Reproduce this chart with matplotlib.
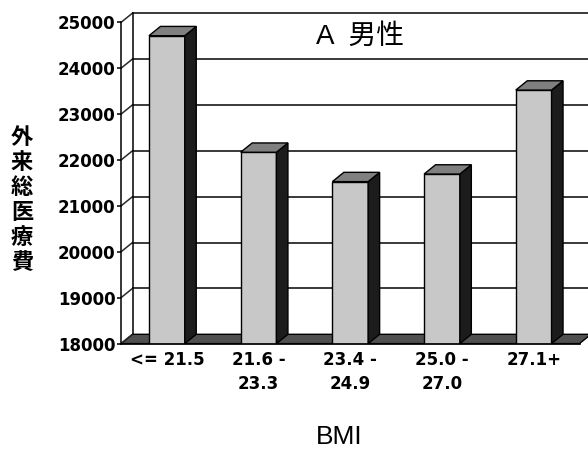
import matplotlib
matplotlib.use("Agg")
import matplotlib.pyplot as plt
from matplotlib.patches import Polygon
import numpy as np

# ---- data ----
categories = ["<= 21.5", "21.6 -\n23.3", "23.4 -\n24.9", "25.0 -\n27.0", "27.1+"]
values = [24710, 22170, 21530, 21695, 23525]
yticks = [18000, 19000, 20000, 21000, 22000, 23000, 24000, 25000]
title = "A  男性"
xlabel = "BMI"
ylabel = "外来総医療費"

# ---- style ----
W, H = 588, 449
FRONT = "#c8c8c8"
SIDE = "#1c1c1c"
TOP = "#808080"
FLOOR = "#505050"
GRID = "#2a2a2a"
BAR_W = 0.39

fig = plt.figure(figsize=(W / 100, H / 100), dpi=100)
ax_l, ax_r, ax_t, ax_b = 121, 579.5, 22.4, 343.6
ax = fig.add_axes([ax_l / W, 1 - ax_b / H, (ax_r - ax_l) / W, (ax_b - ax_t) / H])
ymin, ymax = yticks[0], yticks[-1]
ax.set_xlim(-0.5, len(categories) - 0.5)
ax.set_ylim(ymin, ymax)

# depth offset in data units (derived from pixel size of axes)
px_x = (ax_r - ax_l) / len(categories)
px_y = (ax_b - ax_t) / (ymax - ymin)
DX = 11.5 / px_x
DY = 9.3 / px_y

x0, x1 = -0.5, len(categories) - 0.5

# floor
ax.add_patch(Polygon([(x0, ymin), (x1, ymin), (x1 + DX, ymin + DY), (x0 + DX, ymin + DY)],
                     closed=True, facecolor=FLOOR, edgecolor="black", lw=1.0,
                     clip_on=False, zorder=1))
# back wall gridlines + side wall diagonals
for v in yticks:
    if v > ymin:
        ax.plot([x0 + DX, x1 + DX], [v + DY, v + DY], color=GRID, lw=1.3,
                clip_on=False, zorder=1.5)
    ax.plot([x0, x0 + DX], [v, v + DY], color=GRID, lw=1.1, clip_on=False, zorder=1.5)
# back wall left edge
ax.plot([x0 + DX, x0 + DX], [ymin + DY, ymax + DY], color="black", lw=1.1,
        clip_on=False, zorder=1.5)

# bars
xs = np.arange(len(categories))
vals = np.array(values, dtype=float)
ax.bar(xs, vals - ymin, bottom=ymin, width=BAR_W, color=FRONT, edgecolor="black",
       lw=1.0, zorder=3)
for x, v in zip(xs, vals):
    r = x + BAR_W / 2
    l = x - BAR_W / 2
    ax.add_patch(Polygon([(r, ymin), (r, v), (r + DX, v + DY), (r + DX, ymin + DY)],
                         closed=True, facecolor=SIDE, edgecolor="black", lw=1.0,
                         clip_on=False, zorder=3))
    ax.add_patch(Polygon([(l, v), (r, v), (r + DX, v + DY), (l + DX, v + DY)],
                         closed=True, facecolor=TOP, edgecolor="black", lw=1.0,
                         clip_on=False, zorder=3))

# axes styling
for s in ["top", "right"]:
    ax.spines[s].set_visible(False)
ax.spines["left"].set_linewidth(1.1)
ax.spines["bottom"].set_linewidth(1.2)
ax.spines["left"].set_zorder(2)
ax.spines["bottom"].set_zorder(4)
ax.set_yticks(yticks)
ax.set_yticklabels([str(t) for t in yticks], fontfamily="DejaVu Sans",
                   fontweight="bold", fontsize=12)
ax.tick_params(axis="y", length=3, width=1.1, pad=1)
ax.set_xticks(xs)
ax.set_xticklabels(categories, fontfamily="DejaVu Sans", fontweight="bold",
                   fontsize=12, linespacing=1.45, va="top")
ax.tick_params(axis="x", length=0, pad=5)
ax.patch.set_alpha(0)

# texts
fig.text(360 / W, 1 - 37 / H, title, fontsize=20,
         family=["Liberation Sans", "Noto Sans CJK JP"], ha="center", va="center")
fig.text(339 / W, 1 - 437 / H, xlabel, fontsize=19, family="Liberation Sans",
         ha="center", va="center")
fig.text(22 / W, 1 - 200 / H, "\n".join(ylabel), fontsize=16, fontweight="bold",
         family=["Noto Sans CJK JP", "DejaVu Sans"], ha="center", va="center",
         linespacing=1.12)

fig.savefig("out.png", dpi=100, facecolor="white")
